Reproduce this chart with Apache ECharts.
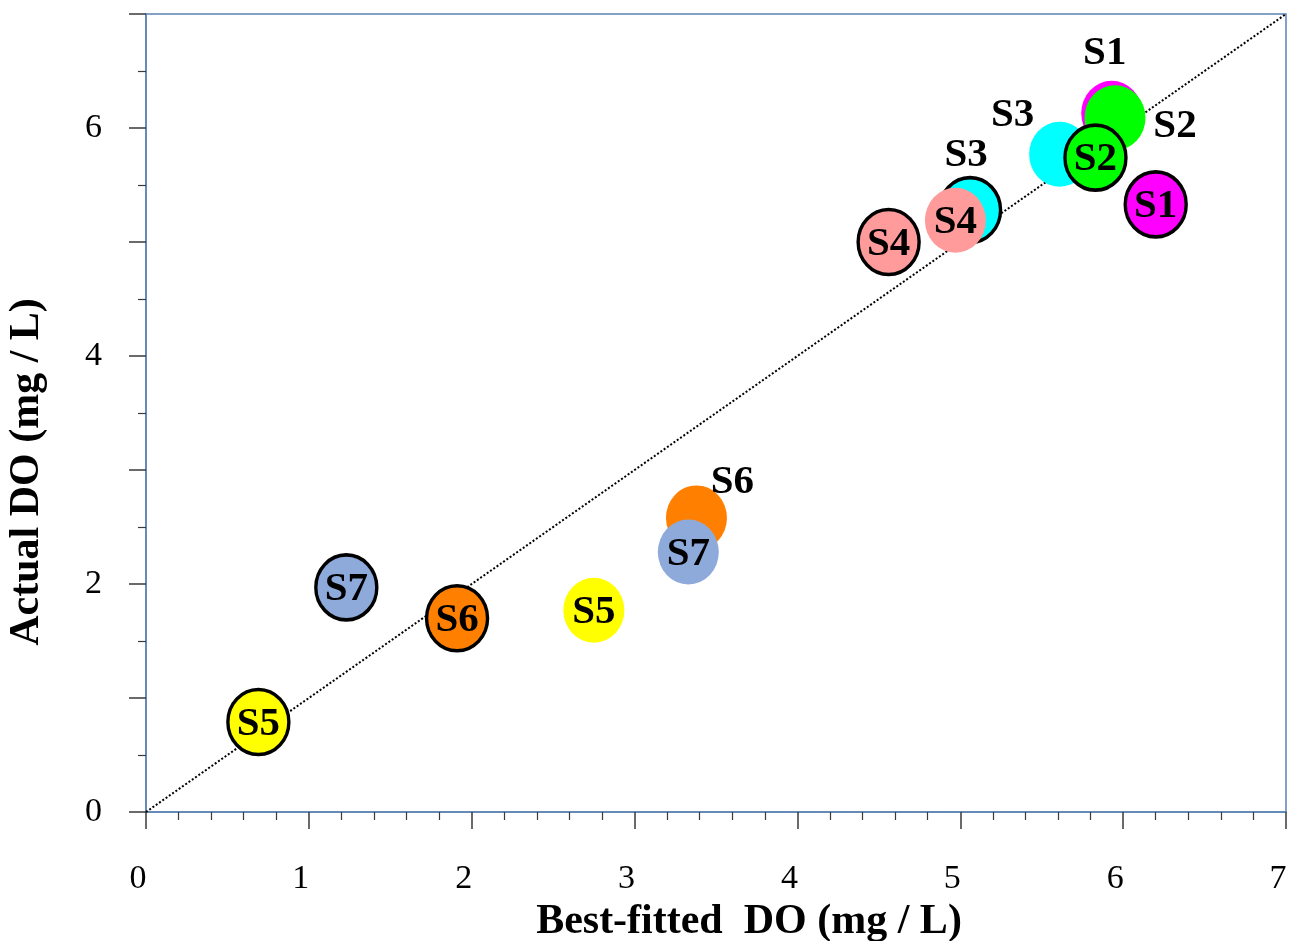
<!DOCTYPE html>
<html>
<head>
<meta charset="utf-8">
<title>Actual vs best-fitted DO</title>
<script src="https://cdn.jsdelivr.net/npm/echarts@6/dist/echarts.min.js"></script>
<style>
  html, body { margin: 0; padding: 0; background: #fff; }
  #chart { width: 1298px; height: 941px; }
</style>
</head>
<body>
<div id="chart"></div>
<script>
// Sampling sites
const sites = ['S1', 'S2', 'S3', 'S4', 'S5', 'S6', 'S7'];

// Group A (ringed markers): best-fitted DO and actual DO, mg/L
const groupAFitted = [6.20, 5.83, 5.06, 4.56, 0.69, 1.91, 1.23];
const groupAActual = [5.33, 5.74, 5.28, 5.00, 0.79, 1.70, 1.97];

// Group B (plain markers): best-fitted DO and actual DO, mg/L
const groupBFitted = [5.93, 5.95, 5.61, 4.97, 2.75, 3.38, 3.33];
const groupBActual = [6.13, 6.09, 5.77, 5.19, 1.77, 2.58, 2.28];

// Axis ticks
const xTicks = [0, 1, 2, 3, 4, 5, 6, 7];
const yTicks = [0, 1, 2, 3, 4, 5, 6, 7];
const yLabelled = [0, 2, 4, 6];

// 1:1 reference line
const oneToOne = [[0, 0], [7, 7]];

// ---- styling ----
const siteColors = {
  S1: '#ff00ff', S2: '#00ff00', S3: '#00ffff', S4: '#ff9b9b',
  S5: '#ffff00', S6: '#ff8000', S7: '#8eaadb'
};
const serif = "'Liberation Serif', 'Times New Roman', serif";
const frameColor = '#5b84b3';
const tickColor = '#3a3a3a';

// Labels that sit outside their marker: [dx, dy] from the marker centre
const outsideLabelA = { S3: [-4, -55] };
const outsideLabelB = { S1: [-7, -60], S2: [60, 9], S3: [-47, -39], S6: [36, -35] };

// Drawing order so overlapping markers stack correctly
const siteOrder = ['S1', 'S3', 'S2', 'S4', 'S5', 'S6', 'S7'];

function makeItem(site, x, y, ringed, offsets) {
  const off = offsets[site];
  return {
    name: site,
    value: [x, y],
    itemStyle: {
      color: siteColors[site],
      opacity: 1,
      borderColor: '#000',
      borderWidth: ringed ? 3.5 : 0
    },
    label: {
      show: true,
      formatter: site,
      position: 'inside',
      offset: off ? off : [0, 2],
      fontFamily: serif,
      fontWeight: 'bold',
      fontSize: 41,
      color: '#000'
    }
  };
}

const points = [];
siteOrder.forEach(function (site) {
  const i = sites.indexOf(site);
  points.push(makeItem(site, groupBFitted[i], groupBActual[i], false, outsideLabelB));
  points.push(makeItem(site, groupAFitted[i], groupAActual[i], true, outsideLabelA));
});

const chart = echarts.init(document.getElementById('chart'), null, { renderer: 'canvas' });

chart.setOption({
  backgroundColor: '#fff',
  animation: false,
  grid: {
    left: 146, right: 12, top: 14, bottom: 129,
    show: true,
    borderColor: frameColor,
    borderWidth: 1.5,
    backgroundColor: 'transparent',
    containLabel: false,
    outerBoundsMode: 'none'
  },
  xAxis: {
    type: 'value',
    min: xTicks[0],
    max: xTicks[xTicks.length - 1],
    interval: 1,
    name: 'Best-fitted  DO (mg / L)',
    nameLocation: 'middle',
    nameGap: 86,
    nameTextStyle: {
      fontFamily: serif, fontWeight: 'bold', fontSize: 42, color: '#000',
      padding: [0, 0, 0, 66]
    },
    axisLine: { show: true, lineStyle: { color: frameColor, width: 1.5 } },
    axisTick: { show: true, inside: false, length: 17, lineStyle: { color: tickColor, width: 1.5 } },
    minorTick: { show: true, splitNumber: 5, length: 8, lineStyle: { color: tickColor, width: 1.2 } },
    splitLine: { show: false },
    minorSplitLine: { show: false },
    axisLabel: {
      margin: 50,
      fontFamily: serif, fontSize: 34, color: '#000',
      padding: [0, 16, 0, 0],
      formatter: function (v) { return xTicks.indexOf(v) >= 0 ? String(v) : ''; }
    }
  },
  yAxis: {
    type: 'value',
    min: yTicks[0],
    max: yTicks[yTicks.length - 1],
    interval: 1,
    name: 'Actual DO (mg / L)',
    nameLocation: 'middle',
    nameGap: 98,
    nameRotate: 90,
    nameTextStyle: {
      fontFamily: serif, fontWeight: 'bold', fontSize: 42, color: '#000',
      padding: [0, 118, 0, 0]
    },
    axisLine: { show: true, lineStyle: { color: frameColor, width: 1.5 } },
    axisTick: { show: true, inside: false, length: 17, lineStyle: { color: tickColor, width: 1.5 } },
    minorTick: { show: true, splitNumber: 2, length: 8, lineStyle: { color: tickColor, width: 1.2 } },
    splitLine: { show: false },
    minorSplitLine: { show: false },
    axisLabel: {
      margin: 44,
      fontFamily: serif, fontSize: 34, color: '#000',
      formatter: function (v) { return yLabelled.indexOf(v) >= 0 ? String(v) : ''; }
    }
  },
  series: [
    {
      type: 'line',
      data: oneToOne,
      symbol: 'none',
      silent: true,
      z: 1,
      lineStyle: { color: '#000', width: 2, type: [2, 2] }
    },
    {
      type: 'scatter',
      data: points,
      symbol: 'circle',
      symbolSize: [61, 65],
      z: 3,
      emphasis: { disabled: true }
    }
  ]
});
</script>
</body>
</html>
